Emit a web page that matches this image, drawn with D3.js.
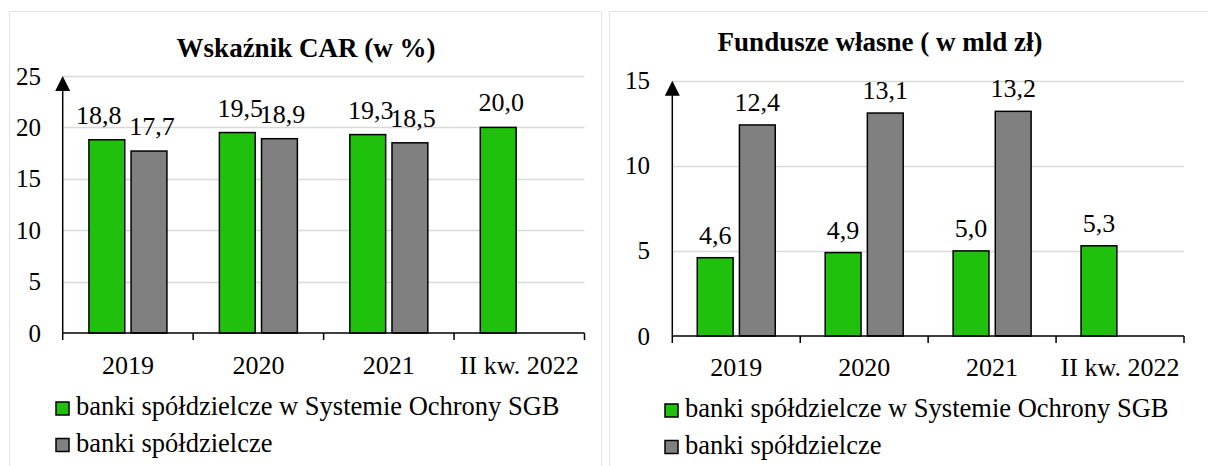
<!DOCTYPE html>
<html>
<head>
<meta charset="utf-8">
<script src="https://cdn.jsdelivr.net/npm/d3@7"></script>
<style>
  body { margin: 0; background: #fff; }
</style>
</head>
<body>
<svg id="chart" width="1208" height="466"></svg>
<script>
// data
var categories = ["2019", "2020", "2021", "II kw. 2022"];
var seriesNames = ["banki spółdzielcze w Systemie Ochrony SGB", "banki spółdzielcze"];
var carSGB = [18.8, 19.5, 19.3, 20.0];
var carBS = [17.7, 18.9, 18.5, null];
var fundSGB = [4.6, 4.9, 5.0, 5.3];
var fundBS = [12.4, 13.1, 13.2, null];
var carTicks = [0, 5, 10, 15, 20, 25];
var fundTicks = [0, 5, 10, 15];

var colors = ["#1fc10c", "#808080"];
var FONT = "'Liberation Serif', 'Times New Roman', serif";
var plFormat = d3.formatLocale({decimal: ",", thousands: " ", grouping: [3], currency: ["", " zł"]}).format(".1f");

var svg = d3.select("#chart").style("font-family", FONT);

// light panel frames
svg.append("path")
    .attr("d", "M9.5,466V11.5H601.5V466")
    .attr("fill", "none").attr("stroke", "#e4e4e4");
svg.append("path")
    .attr("d", "M609.5,466V11.5H1208")
    .attr("fill", "none").attr("stroke", "#e4e4e4");

function txt(sel, size) {
  return sel.style("font-family", FONT).style("font-size", size + "px").attr("fill", "#000");
}

function drawPanel(cfg) {
  var g = svg.append("g");

  var x = d3.scaleBand().domain(categories).range([cfg.x0, cfg.x1]);
  var inner = d3.scaleBand().domain([0, 1]).range([-39, 39]).paddingInner(0.15);
  var y = d3.scaleLinear().domain([0, d3.max(cfg.ticks)]).range([cfg.y0, cfg.y1]);

  // title
  txt(g.append("text"), 27)
      .attr("x", cfg.titleX)
      .attr("y", cfg.titleY)
      .attr("text-anchor", "middle")
      .style("font-weight", "bold")
      .text(cfg.title);

  // gridlines
  g.selectAll(".grid")
      .data(cfg.ticks.filter(function(d) { return d > 0; }))
    .enter().append("line")
      .attr("x1", cfg.x0).attr("x2", cfg.x1)
      .attr("y1", function(d) { return Math.round(y(d)) + 0.5; })
      .attr("y2", function(d) { return Math.round(y(d)) + 0.5; })
      .attr("stroke", "#d9d9d9")
      .attr("stroke-width", 1.5);

  // y tick labels
  txt(g.selectAll(".ylab")
      .data(cfg.ticks)
    .enter().append("text"), 25)
      .attr("x", cfg.labelX)
      .attr("y", function(d) { return y(d); })
      .attr("dy", "0.34em")
      .attr("text-anchor", "end")
      .text(function(d) { return d; });

  // bars
  var series = [cfg.a, cfg.b];
  series.forEach(function(vals, si) {
    var pts = categories.map(function(c, i) { return {c: c, v: vals[i]}; })
        .filter(function(d) { return d.v != null; });

    g.selectAll(".bar" + si)
        .data(pts)
      .enter().append("rect")
        .attr("x", function(d) { return x(d.c) + x.bandwidth() / 2 + inner(si); })
        .attr("width", inner.bandwidth())
        .attr("y", function(d) { return y(d.v); })
        .attr("height", function(d) { return y(0) - y(d.v); })
        .attr("fill", colors[si])
        .attr("stroke", "#000")
        .attr("stroke-width", 1.5);

    txt(g.selectAll(".val" + si)
        .data(pts)
      .enter().append("text"), 26)
        .attr("x", function(d) {
          var nudge = (si === 0 && cfg.nudge[d.c]) || 0;
          return x(d.c) + x.bandwidth() / 2 + inner(si) + inner.bandwidth() / 2 + cfg.labelDx + nudge;
        })
        .attr("y", function(d) { return y(d.v) - cfg.labelGap; })
        .attr("text-anchor", "middle")
        .text(function(d) { return plFormat(d.v); });
  });

  // x axis
  var xAxis = d3.axisBottom(x).tickSize(0).tickFormat(function(d) { return d; });
  var axG = g.append("g")
      .attr("transform", "translate(0," + cfg.y0 + ")")
      .call(xAxis)
      .attr("font-family", null);
  axG.select(".domain").remove();
  txt(axG.selectAll("text"), 26)
      .attr("y", cfg.catY - cfg.y0)
      .attr("dy", 0);

  g.append("line")
      .attr("x1", cfg.x0).attr("x2", cfg.x1)
      .attr("y1", cfg.y0).attr("y2", cfg.y0)
      .attr("stroke", "#000").attr("stroke-width", 1.5);

  var bounds = categories.map(function(c) { return x(c); }).concat([cfg.x1]);
  g.selectAll(".xtick")
      .data(bounds)
    .enter().append("line")
      .attr("x1", function(d) { return d; }).attr("x2", function(d) { return d; })
      .attr("y1", cfg.y0).attr("y2", cfg.y0 + 7)
      .attr("stroke", "#000").attr("stroke-width", 1.5);

  // y axis with arrow
  var top = y(d3.max(cfg.ticks));
  g.append("line")
      .attr("x1", cfg.x0).attr("x2", cfg.x0)
      .attr("y1", cfg.y0).attr("y2", top + 10)
      .attr("stroke", "#000").attr("stroke-width", 1.5);
  g.append("path")
      .attr("d", "M" + cfg.x0 + "," + top + "L" + (cfg.x0 - 7.5) + "," + (top + 15) +
                 "L" + (cfg.x0 + 7.5) + "," + (top + 15) + "Z")
      .attr("fill", "#000");

  // legend
  var leg = g.selectAll(".leg")
      .data(seriesNames)
    .enter().append("g")
      .attr("transform", function(d, i) { return "translate(" + cfg.legX + "," + (cfg.legY + i * 36.5) + ")"; });
  leg.append("rect")
      .attr("x", 0).attr("y", -13)
      .attr("width", 13).attr("height", 13)
      .attr("fill", function(d, i) { return colors[i]; })
      .attr("stroke", "#000").attr("stroke-width", 1.5);
  txt(leg.append("text"), 26.5)
      .attr("x", 20).attr("y", 0)
      .text(function(d) { return d; });
}

drawPanel({
  title: "Wskaźnik CAR (w %)", titleX: 306, titleY: 57,
  x0: 62.7, x1: 584.5, y0: 333, y1: 76,
  ticks: carTicks, a: carSGB, b: carBS,
  labelX: 41, labelGap: 16, labelDx: 3, nudge: {"2019": -11}, catY: 374,
  legX: 56, legY: 415
});

drawPanel({
  title: "Fundusze własne ( w mld zł)", titleX: 880, titleY: 51,
  x0: 672.3, x1: 1184, y0: 336, y1: 80.7,
  ticks: fundTicks, a: fundSGB, b: fundBS,
  labelX: 650, labelGap: 14, labelDx: 0, nudge: {}, catY: 376,
  legX: 665, legY: 417
});
</script>
</body>
</html>
